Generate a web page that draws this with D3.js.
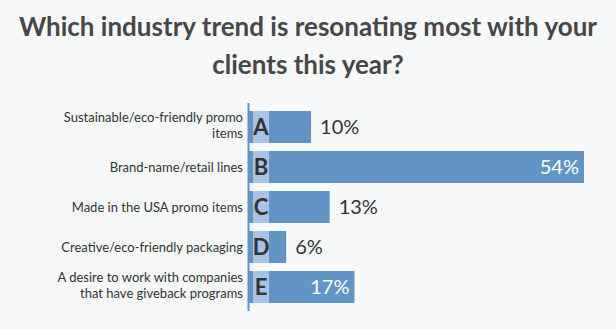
<!DOCTYPE html>
<html>
<head>
<meta charset="utf-8">
<title>Industry trends</title>
<style>
	html, body { margin: 0; padding: 0; background: #f7f8fa; }
	svg { display: block; font-family: Lato, "Noto Sans", sans-serif; }
</style>
</head>
<body>
<div id="chart"></div>
<script src="https://cdn.jsdelivr.net/npm/d3@7"></script>
<script>
(function () {

	// survey answers
	var letters = ['A', 'B', 'C', 'D', 'E'];
	var categories = [
		['Sustainable/eco-friendly promo', 'items'],
		['Brand-name/retail lines'],
		['Made in the USA promo items'],
		['Creative/eco-friendly packaging'],
		['A desire to work with companies', 'that have giveback programs']
	];
	var values = [10, 54, 13, 6, 17];
	var titleLines = ['Which industry trend is resonating most with your', 'clients this year?'];

	var width = 616, height = 329;
	var barColor = '#6294c6', boxColor = '#a9c4e2', ink = '#333';

	var svg = d3.select('#chart').append('svg')
		.attr('width', width)
		.attr('height', height);

	svg.append('rect').attr('width', width).attr('height', height).attr('fill', '#f7f8fa');

	svg.append('g').selectAll('text')
		.data(titleLines)
		.join('text')
		.attr('x', width / 2)
		.attr('y', function (d, i) { return 36 + i * 38; })
		.attr('text-anchor', 'middle')
		.attr('font-size', 26)
		.attr('font-weight', 'bold')
		.attr('fill', '#474747')
		.text(function (d) { return d; });

	var y = d3.scaleBand()
		.domain(letters)
		.range([107, 307])
		.paddingInner(0.2)
		.paddingOuter(0.1);

	var x = d3.scaleLinear()
		.domain([0, 54])
		.range([249, 584]);

	var rows = svg.append('g').selectAll('g')
		.data(letters)
		.join('g')
		.attr('transform', function (d) { return 'translate(0,' + y(d) + ')'; });

	var bh = y.bandwidth();

	rows.append('rect')
		.attr('x', x(0))
		.attr('width', function (d, i) { return x(values[i]) - x(0); })
		.attr('height', bh)
		.attr('fill', barColor);

	rows.append('rect')
		.attr('x', x(0) + 4)
		.attr('width', 16)
		.attr('height', bh)
		.attr('fill', boxColor);

	rows.append('text')
		.attr('x', x(0) + 12)
		.attr('y', bh / 2 + 8)
		.attr('text-anchor', 'middle')
		.attr('font-size', 22)
		.attr('font-weight', 'bold')
		.attr('fill', ink)
		.text(function (d) { return d; });

	// value labels: inside the bar when there is room, otherwise after it
	rows.append('text')
		.attr('x', function (d, i) { return values[i] >= 15 ? x(values[i]) - 5 : x(values[i]) + 9; })
		.attr('y', bh / 2 + 7)
		.attr('text-anchor', function (d, i) { return values[i] >= 15 ? 'end' : 'start'; })
		.attr('font-size', 20)
		.attr('fill', function (d, i) { return values[i] >= 15 ? '#fff' : ink; })
		.text(function (d, i) { return values[i] + '%'; });

	rows.append('text')
		.attr('text-anchor', 'end')
		.attr('font-size', 13)
		.attr('fill', ink)
		.selectAll('tspan')
		.data(function (d, i) { return categories[i]; })
		.join('tspan')
		.attr('x', 243)
		.attr('y', function (d, i, nodes) {
			var n = nodes.length;
			return bh / 2 + 5 + (i - (n - 1) / 2) * 16 - (n > 1 ? 2 : 0);
		})
		.text(function (d) { return d; });

	svg.append('line')
		.attr('x1', x(0) - 0.5).attr('x2', x(0) - 0.5)
		.attr('y1', 103).attr('y2', 311)
		.attr('stroke', barColor)
		.attr('stroke-width', 2);

})();
</script>
</body>
</html>
